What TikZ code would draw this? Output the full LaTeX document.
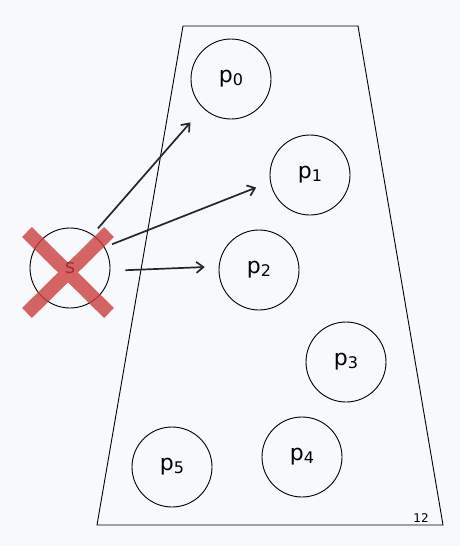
\documentclass[tikz,border=0pt]{standalone}
\usepackage{fontspec}
\setmainfont{DejaVu Sans}
\usetikzlibrary{arrows.meta}
\definecolor{bgpaper}{RGB}{248,249,253}
\definecolor{crossred}{RGB}{203,62,62}
\tikzset{>={Straight Barb[length=7pt,width=11pt]}}
\tikzset{
  proc/.style={draw=black,line width=0.9pt,circle,minimum size=80pt,inner sep=0pt,font=\fontsize{22}{22}\selectfont},
  msg/.style={->,line width=1.7pt,black!85}
}
\newcommand{\pid}[1]{p\raisebox{-0.25ex}{\fontsize{16}{16}\selectfont #1}}

\begin{document}
\begin{tikzpicture}[x=1pt,y=-1pt]
    \fill[bgpaper] (0,0) rectangle (460,546);
    \useasboundingbox (0,0) rectangle (460,546);
    % the group
    \draw[line width=0.9pt] (183,26) -- (358,26) -- (443,525) -- (97,525) -- cycle;
    \node (p0) [proc] at (231,79) {\pid{0}};
    \node (p1) [proc] at (310,175) {\pid{1}};
    \node (p2) [proc] at (259,270) {\pid{2}};
    \node (p3) [proc] at (346,362) {\pid{3}};
    \node (p4) [proc] at (302,457) {\pid{4}};
    \node (p5) [proc] at (172,467) {\pid{5}};
    \node (pg) [font=\fontsize{12}{12}\selectfont] at (421,518) {12};
    % the sender
    \node (s) [proc,font=\fontsize{20}{20}\selectfont] at (70,268) {s};
    \draw[msg,shorten <=8pt,shorten >=19pt] (s.56) -- (p0.226);
    \draw[msg,shorten <=8pt,shorten >=15pt] (s.31) -- (p1.190);
    \draw[msg,shorten <=15pt,shorten >=14pt] (s.356) -- (p2.175);
    % crashed
    \begin{scope}[transparency group,opacity=0.8]
      \draw[line width=14pt,crossred] (27,232) -- (109,313);
      \draw[line width=14pt,crossred] (27,313) -- (109,232);
    \end{scope}
\end{tikzpicture}
\end{document}
